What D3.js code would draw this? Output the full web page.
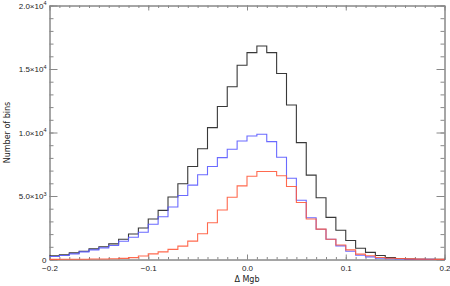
<!DOCTYPE html>
<html>
<head>
<meta charset="utf-8">
<script src="https://cdn.jsdelivr.net/npm/d3@7.9.0/dist/d3.min.js"></script>
<style>
  body { margin: 0; background: #fff; }
  svg { display: block; font-family: "DejaVu Sans", sans-serif; }
  .axis text { font-size: 8px; fill: #222; }
  .axis path, .axis line { stroke: #888; }
</style>
</head>
<body>
<svg id="chart" width="450" height="286"></svg>
<script>
// bin starts (width 0.01)
const binStarts = [-0.20, -0.19, -0.18, -0.17, -0.16, -0.15, -0.14, -0.13, -0.12, -0.11,
  -0.10, -0.09, -0.08, -0.07, -0.06, -0.05, -0.04, -0.03, -0.02, -0.01,
  0.00, 0.01, 0.02, 0.03, 0.04, 0.05, 0.06, 0.07, 0.08, 0.09,
  0.10, 0.11, 0.12, 0.13, 0.14, 0.15, 0.16, 0.17, 0.18, 0.19];
const binWidth = 0.01;

// counts per bin
const allCounts = [290, 370, 525, 650, 840, 1000, 1230, 1590, 2010, 2480,
  3190, 3870, 4920, 5960, 7320, 8720, 10380, 12050, 13600, 15290,
  16290, 16810, 16290, 14640, 12160, 9200, 6640, 4860, 3320, 2300,
  1500, 890, 560, 310, 150, 80, 40, 25, 15, 10];
const blueCounts = [235, 310, 445, 600, 760, 915, 1100, 1440, 1750, 2140,
  2780, 3370, 4130, 5040, 5860, 6670, 7320, 8020, 8680, 9330,
  9725, 9860, 9280, 8050, 6400, 4660, 3290, 2380, 1600, 1070,
  650, 340, 210, 100, 60, 35, 20, 12, 8, 5];
const redCounts = [10, 15, 20, 25, 35, 45, 60, 90, 150, 280,
  440, 600, 800, 1050, 1450, 2030, 2890, 3900, 4900, 5800,
  6550, 6930, 6930, 6590, 5750, 4490, 3190, 2390, 1600, 1140,
  760, 420, 290, 155, 100, 80, 50, 30, 15, 8];

const xMajor = [-0.2, -0.1, 0.0, 0.1, 0.2];
const xLabels = ['\u22120.2', '\u22120.1', '0.0', '0.1', '0.2'];
const yMajor = [0, 5000, 10000, 15000, 20000];
const yMantissa = ['0', '5.0', '1.0', '1.5', '2.0'];
const yExponent = ['', '3', '4', '4', '4'];

const svg = d3.select('#chart');
const m = { left: 49.5, right: 444.5, top: 5.5, bottom: 259.5 };

const x = d3.scaleLinear().domain([-0.2, 0.2]).range([m.left, m.right]);
const y = d3.scaleLinear().domain([0, 20000]).range([m.bottom, m.top]);

const xMinor = d3.range(-20, 21).map(i => i / 100);
const yMinor = d3.range(0, 21).map(i => i * 1000);

// minor ticks
svg.append('g').attr('class', 'axis').attr('transform', `translate(0,${m.bottom})`)
  .call(d3.axisBottom(x).tickValues(xMinor).tickSize(-2.5).tickSizeOuter(0).tickFormat(''));
svg.append('g').attr('class', 'axis').attr('transform', `translate(0,${m.top})`)
  .call(d3.axisTop(x).tickValues(xMinor).tickSize(-2.5).tickSizeOuter(0).tickFormat(''));
svg.append('g').attr('class', 'axis').attr('transform', `translate(${m.left},0)`)
  .call(d3.axisLeft(y).tickValues(yMinor).tickSize(-4).tickSizeOuter(0).tickFormat(''));
svg.append('g').attr('class', 'axis').attr('transform', `translate(${m.right},0)`)
  .call(d3.axisRight(y).tickValues(yMinor).tickSize(-4).tickSizeOuter(0).tickFormat(''));

// major ticks + labels
svg.append('g').attr('class', 'axis').attr('transform', `translate(0,${m.bottom})`)
  .call(d3.axisBottom(x).tickValues(xMajor).tickSize(-5).tickSizeOuter(0).tickPadding(6)
    .tickFormat((d, i) => xLabels[i]));
svg.append('g').attr('class', 'axis').attr('transform', `translate(0,${m.top})`)
  .call(d3.axisTop(x).tickValues(xMajor).tickSize(-5).tickSizeOuter(0).tickFormat(''));
svg.append('g').attr('class', 'axis').attr('transform', `translate(${m.right},0)`)
  .call(d3.axisRight(y).tickValues(yMajor).tickSize(-8).tickSizeOuter(0).tickFormat(''));

const yAxis = svg.append('g').attr('class', 'axis').attr('transform', `translate(${m.left},0)`)
  .call(d3.axisLeft(y).tickValues(yMajor).tickSize(-8).tickSizeOuter(0).tickPadding(3).tickFormat(''));
yAxis.selectAll('.tick text').each(function(d, i) {
  const t = d3.select(this);
  t.append('tspan').text(yMantissa[i] + (yExponent[i] ? '\u00d710' : ''));
  if (yExponent[i]) {
    t.append('tspan').attr('dy', -3.5).attr('font-size', '5.5px').text(yExponent[i]);
  }
});

// histograms
const step = d3.line()
  .x(d => x(d[0]))
  .y(d => y(d[1]))
  .curve(d3.curveStepAfter);

function stepPoints(counts) {
  const pts = binStarts.map((b, i) => [b, counts[i]]);
  pts.push([binStarts[binStarts.length - 1] + binWidth, counts[counts.length - 1]]);
  return pts;
}

const series = [
  { counts: allCounts, color: '#222' },
  { counts: blueCounts, color: '#5a5aff' },
  { counts: redCounts, color: '#ff5a3c' }
];

series.forEach(s => {
  svg.append('path')
    .attr('d', step(stepPoints(s.counts)))
    .attr('fill', 'none')
    .attr('stroke', s.color)
    .attr('stroke-width', 1.1)
    .attr('stroke-opacity', 0.9);
});

// axis titles
svg.append('text')
  .attr('x', (m.left + m.right) / 2)
  .attr('y', 282)
  .attr('text-anchor', 'middle')
  .attr('font-size', '8px')
  .attr('fill', '#222')
  .text('\u0394 Mgb');

svg.append('text')
  .attr('transform', `translate(10,${(m.top + m.bottom) / 2}) rotate(-90)`)
  .attr('text-anchor', 'middle')
  .attr('font-size', '8px')
  .attr('fill', '#222')
  .text('Number of bins');
</script>
</body>
</html>
